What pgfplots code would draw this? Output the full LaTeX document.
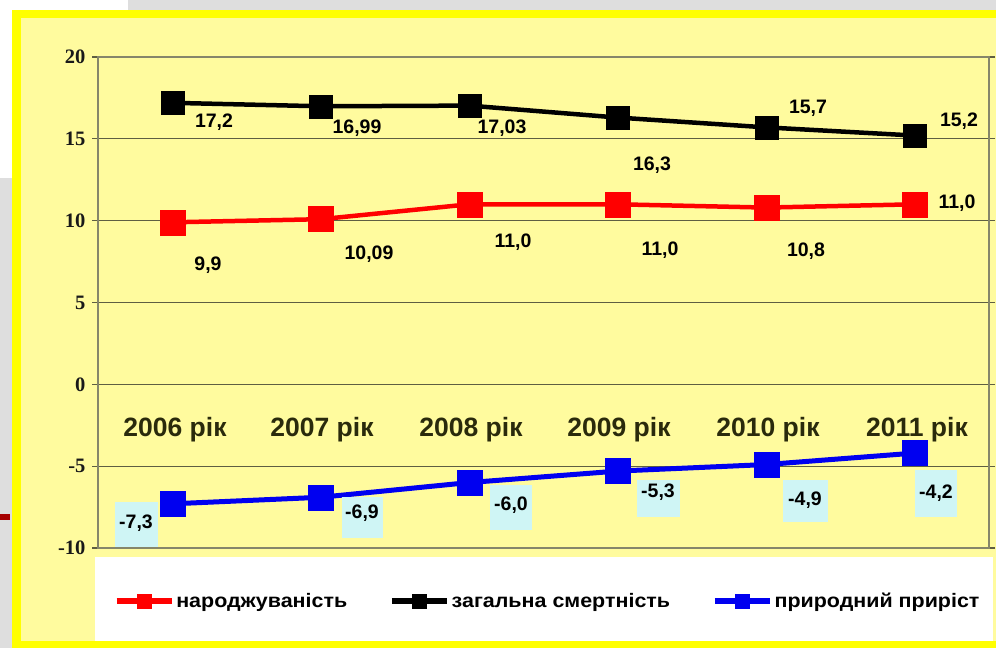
\documentclass[border=0pt]{standalone}
\usepackage{pgfplots}
\pgfplotsset{compat=1.18}
\usepackage{fontspec}
\setmainfont{Liberation Sans}
\newfontfamily\serifb{Liberation Serif}
\newfontfamily\legfam{Liberation Sans}[FakeStretch=1.1]
\definecolor{ly}{HTML}{FFFB9E}
\definecolor{yb}{HTML}{FFFF00}
\definecolor{gridc}{HTML}{5E5E42}
\definecolor{axc}{HTML}{86866A}
\definecolor{catc}{HTML}{2A2A0C}
\definecolor{lblbox}{HTML}{CFF5F5}
\definecolor{bgg}{HTML}{DEDEDE}
\definecolor{myblue}{HTML}{0000F0}
\newcommand\lbl{\bfseries\fontsize{19.5bp}{23bp}\selectfont}
\newcommand\cat{\bfseries\fontsize{26.5bp}{30bp}\selectfont}
\newcommand\ytf{\serifb\bfseries\fontsize{20.5bp}{24bp}\selectfont}
\newcommand\legf{\legfam\bfseries\fontsize{19.5bp}{23bp}\selectfont}
\begin{document}
\begin{tikzpicture}
\useasboundingbox (0,0) rectangle (996bp,-648bp);
% background
\fill[bgg] (0,0) rectangle (996bp,-648bp);
\fill[white] (0,0) rectangle (128bp,-10bp);
\fill[white] (0,0) rectangle (12bp,-178bp);
\fill[red!65!black] (0,-514bp) rectangle (10bp,-520bp);
\fill[yb] (12bp,-10bp) rectangle (996bp,-648bp);
\fill[ly] (21bp,-18bp) rectangle (996bp,-641bp);
\fill[white] (95bp,-557bp) rectangle (993bp,-641bp);
\begin{axis}[
  at={(98bp,-548bp)}, anchor=south west,
  scale only axis, width=891bp, height=491bp,
  xmin=-0.5, xmax=5.5, ymin=-10, ymax=20,
  xtick=\empty,
  ytick={-10,-5,0,5,10,15,20},
  yticklabels={-10,-5,0,5,10,15,20},
  yticklabel style={font=\ytf, text=black!90, xshift=-3bp},
  tick align=outside, major tick length=6bp,
  ytick style={draw=gridc, line width=1.2bp},
  axis line style={draw=axc, line width=1.2bp},
  ymajorgrids, grid style={draw=gridc, line width=1.2bp},
  clip=false,
  legend style={at={(0.0175,-0.108)}, anchor=west, draw=none, fill=none,
    legend columns=3, font=\legf, inner sep=0pt,
    /tikz/every even column/.append style={column sep=40bp}},
  legend image code/.code={\draw[mark repeat=2, mark phase=2, mark size=7bp, line width=5.5bp, mark options={line width=0.5bp}] plot coordinates {(0bp,0bp) (27.5bp,0bp) (55bp,0bp)};},
]
\addplot[color=red, line width=4.5bp, mark=square*, mark size=12.5bp, mark options={line width=0.5bp}] coordinates {(0,9.9) (1,10.09) (2,11.0) (3,11.0) (4,10.8) (5,11.0)};
\addlegendentry{народжуваність}
\addplot[color=black, line width=4.5bp, mark=square*, mark size=11.5bp, mark options={line width=0.5bp}] coordinates {(0,17.2) (1,16.99) (2,17.03) (3,16.3) (4,15.7) (5,15.2)};
\addlegendentry{загальна смертність}
\addplot[color=myblue, line width=5bp, mark=square*, mark size=12.5bp, mark options={line width=0.5bp}] coordinates {(0,-7.3) (1,-6.9) (2,-6.0) (3,-5.3) (4,-4.9) (5,-4.2)};
\addlegendentry{природний приріст}
\end{axis}
% category labels
\foreach \x/\t in {175/2006,322/2007,471/2008,619/2009,768/2010,917/2011}
  \node[text=catc, font=\cat, inner sep=0pt] at (\x bp,-430bp) {\t{} рік};
% death labels
\node[font=\lbl, inner sep=0pt] at (214bp,-122bp) {17,2};
\node[font=\lbl, inner sep=0pt] at (357bp,-128bp) {16,99};
\node[font=\lbl, inner sep=0pt] at (502bp,-128bp) {17,03};
\node[font=\lbl, inner sep=0pt] at (652bp,-165bp) {16,3};
\node[font=\lbl, inner sep=0pt] at (808bp,-108bp) {15,7};
\node[font=\lbl, inner sep=0pt] at (959bp,-121bp) {15,2};
% birth labels
\node[font=\lbl, inner sep=0pt] at (208bp,-265bp) {9,9};
\node[font=\lbl, inner sep=0pt] at (369bp,-254bp) {10,09};
\node[font=\lbl, inner sep=0pt] at (513bp,-242bp) {11,0};
\node[font=\lbl, inner sep=0pt] at (660bp,-250bp) {11,0};
\node[font=\lbl, inner sep=0pt] at (806bp,-251bp) {10,8};
\node[font=\lbl, inner sep=0pt] at (957bp,-203bp) {11,0};
% natural increase labels
\fill[lblbox] (115bp,-502bp) rectangle (158bp,-547bp);
\fill[lblbox] (342bp,-497bp) rectangle (383bp,-538bp);
\fill[lblbox] (490bp,-485bp) rectangle (532bp,-530bp);
\fill[lblbox] (637bp,-480bp) rectangle (680bp,-517bp);
\fill[lblbox] (783bp,-480bp) rectangle (828bp,-522bp);
\fill[lblbox] (915bp,-470bp) rectangle (957bp,-517bp);
\node[font=\lbl, inner sep=0pt] at (136bp,-523bp) {-7,3};
\node[font=\lbl, inner sep=0pt] at (362bp,-513bp) {-6,9};
\node[font=\lbl, inner sep=0pt] at (511bp,-505bp) {-6,0};
\node[font=\lbl, inner sep=0pt] at (658bp,-492bp) {-5,3};
\node[font=\lbl, inner sep=0pt] at (805bp,-500bp) {-4,9};
\node[font=\lbl, inner sep=0pt] at (936bp,-493bp) {-4,2};
\end{tikzpicture}
\end{document}
